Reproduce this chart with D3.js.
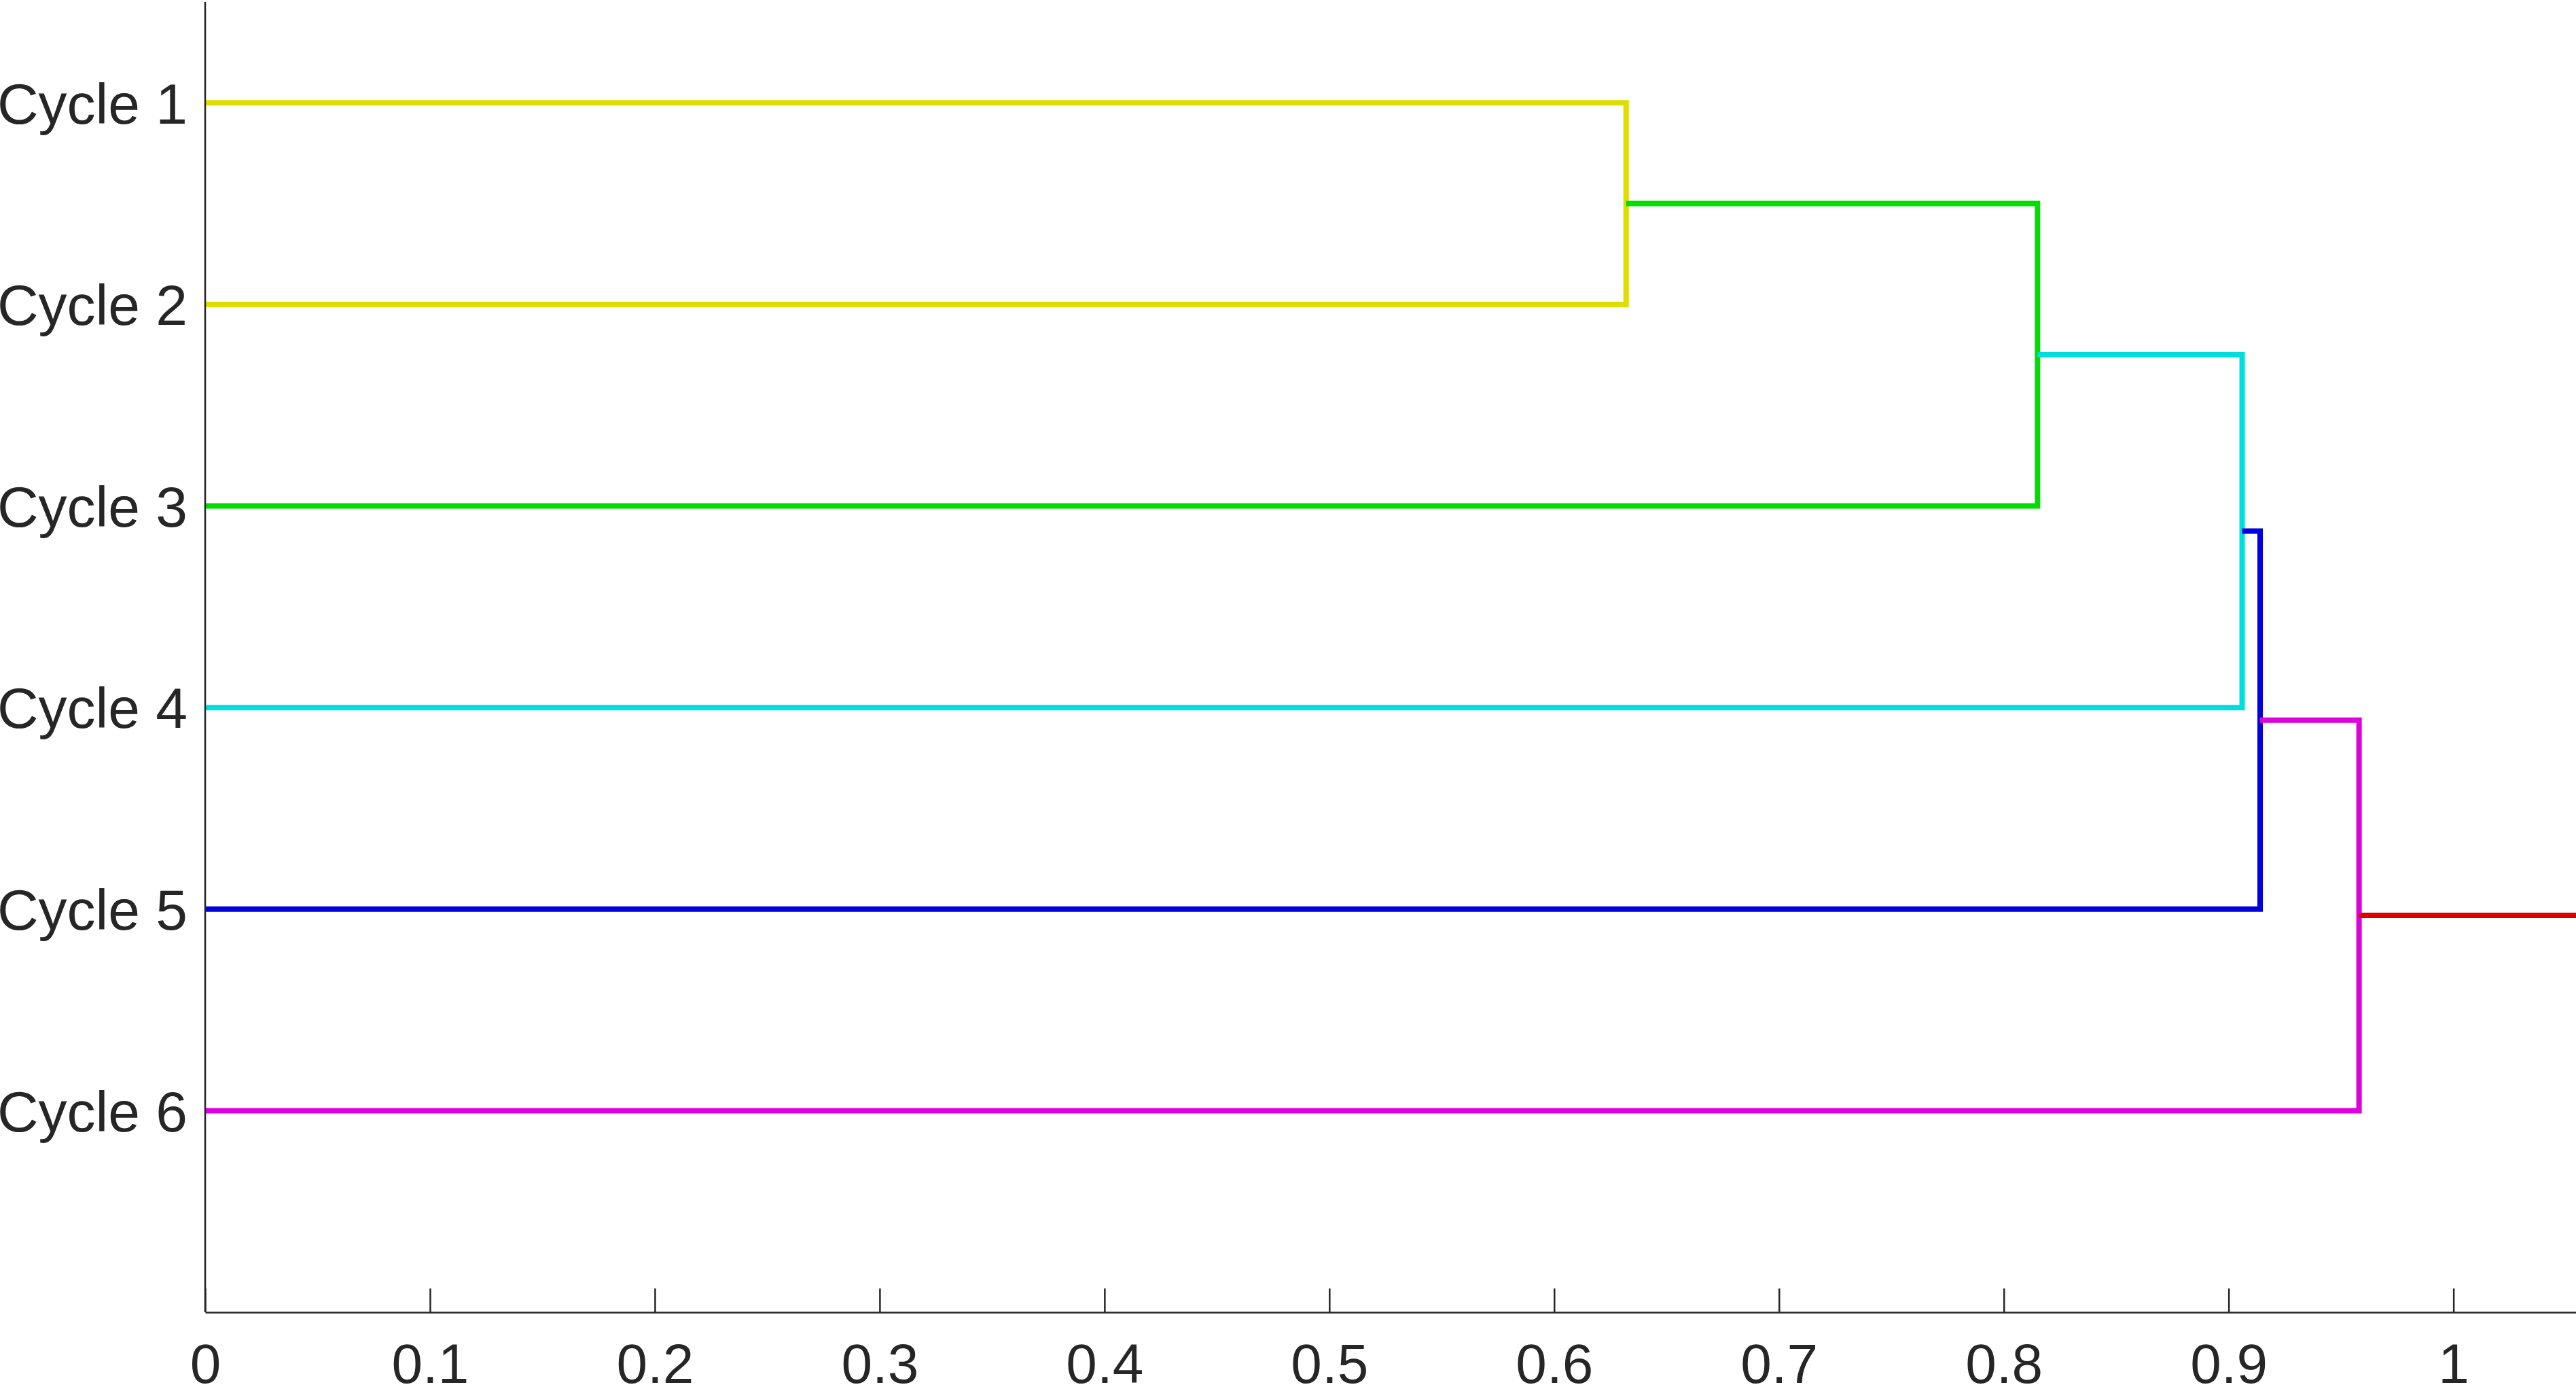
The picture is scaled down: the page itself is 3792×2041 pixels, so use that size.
<!DOCTYPE html>
<html>
<head>
<meta charset="utf-8">
<script src="https://cdn.jsdelivr.net/npm/d3@7"></script>
<style>
  html, body { margin: 0; padding: 0; background: #fff; }
  svg { display: block; }
</style>
</head>
<body>
<svg id="chart"></svg>
<script>
// leaves, top to bottom
const leaves = ["Cycle 1", "Cycle 2", "Cycle 3", "Cycle 4", "Cycle 5", "Cycle 6"];

// linkage: node ids 1..6 are leaves, 7.. are merged clusters (MATLAB style)
const mergeLeft = [1, 7, 8, 9, 10];
const mergeRight = [2, 3, 4, 5, 6];
const mergeHeights = [0.632, 0.815, 0.906, 0.914, 0.958];
const linkColors = ["#dddd00", "#00dd00", "#00dddd", "#0000dd", "#dd00dd"];
const rootColor = "#dd0000";

const xTicks = [0, 0.1, 0.2, 0.3, 0.4, 0.5, 0.6, 0.7, 0.8, 0.9, 1];

const width = 3792;
const height = 2041;
const marginTop = 3;
const marginLeft = 302;
const marginRight = 0;
const axisY = 1931;

const x = d3.scaleLinear()
    .domain([0, 1.0545])
    .range([marginLeft, width - marginRight]);

const y = d3.scaleLinear()
    .domain([0.5, 7])
    .range([marginTop, axisY]);

const svg = d3.select("#chart")
    .attr("width", width)
    .attr("height", height)
    .attr("viewBox", [0, 0, width, height])
    .style("font-family", "'Liberation Sans', Arial, Helvetica, sans-serif");

// position of every node: height and row
const nodeH = {};
const nodeY = {};
leaves.forEach((d, i) => { nodeH[i + 1] = 0; nodeY[i + 1] = i + 1; });
mergeLeft.forEach((l, i) => {
    const id = leaves.length + i + 1;
    nodeH[id] = mergeHeights[i];
    nodeY[id] = (nodeY[l] + nodeY[mergeRight[i]]) / 2;
});

const links = mergeLeft.map((l, i) => ({
    left: l,
    right: mergeRight[i],
    h: mergeHeights[i],
    color: linkColors[i]
}));

const line = d3.line().x(d => x(d[0])).y(d => y(d[1]));

svg.append("g")
    .attr("fill", "none")
    .attr("stroke-width", 8)
    .attr("stroke-linejoin", "miter")
    .selectAll("path")
    .data(links)
    .join("path")
    .attr("stroke", d => d.color)
    .attr("d", d => line([
        [nodeH[d.left], nodeY[d.left]],
        [d.h, nodeY[d.left]],
        [d.h, nodeY[d.right]],
        [nodeH[d.right], nodeY[d.right]]
    ]));

// root stub
const rootId = leaves.length + mergeLeft.length;
svg.append("path")
    .attr("fill", "none")
    .attr("stroke", rootColor)
    .attr("stroke-width", 8)
    .attr("d", line([[nodeH[rootId], nodeY[rootId]], [x.domain()[1], nodeY[rootId]]]));

// x axis, ticks inward
const gx = svg.append("g")
    .attr("transform", `translate(0,${axisY})`)
    .call(d3.axisBottom(x)
        .tickValues(xTicks)
        .tickFormat(d3.format("~g"))
        .tickSizeInner(-35)
        .tickSizeOuter(0)
        .tickPadding(46));

gx.select(".domain").attr("stroke", "#262626").attr("stroke-width", 2.5);
gx.selectAll(".tick line").attr("stroke", "#262626").attr("stroke-width", 2.5);
gx.selectAll(".tick text")
    .attr("fill", "#262626")
    .style("font-size", "82px")
    .attr("dy", "0.71em");

// y axis line, labels only
svg.append("line")
    .attr("x1", x(0)).attr("x2", x(0))
    .attr("y1", marginTop).attr("y2", axisY)
    .attr("stroke", "#262626")
    .attr("stroke-width", 2.5);

svg.append("g")
    .selectAll("text")
    .data(leaves)
    .join("text")
    .attr("x", x(0) - 26)
    .attr("y", (d, i) => y(i + 1))
    .attr("dy", "0.36em")
    .attr("text-anchor", "end")
    .attr("fill", "#262626")
    .style("font-size", "84px")
    .text(d => d);
</script>
</body>
</html>
